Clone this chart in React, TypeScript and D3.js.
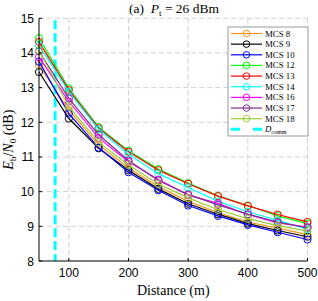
import React from "react";
import * as d3 from "d3";

const distances = [50, 100, 150, 200, 250, 300, 350, 400, 450, 500];
const mcs8 = [13.65, 12.35, 11.35, 10.68, 10.15, 9.72, 9.40, 9.12, 8.95, 8.76];
const mcs9 = [13.45, 12.11, 11.25, 10.62, 10.08, 9.65, 9.35, 9.08, 8.88, 8.70];
const mcs10 = [13.75, 12.25, 11.27, 10.56, 10.04, 9.60, 9.30, 9.04, 8.83, 8.62];
const mcs12 = [14.43, 12.98, 11.86, 11.18, 10.65, 10.25, 9.88, 9.60, 9.30, 9.08];
const mcs13 = [14.32, 12.93, 11.83, 11.15, 10.62, 10.23, 9.87, 9.59, 9.34, 9.13];
const mcs14 = [14.22, 12.88, 11.80, 11.08, 10.52, 10.12, 9.72, 9.42, 9.17, 8.92];
const mcs16 = [13.88, 12.60, 11.55, 10.86, 10.35, 9.90, 9.66, 9.34, 9.10, 8.98];
const mcs17 = [14.05, 12.69, 11.64, 10.90, 10.32, 9.92, 9.62, 9.35, 9.12, 8.96];
const mcs18 = [14.08, 12.45, 11.42, 10.77, 10.22, 9.82, 9.48, 9.22, 9.02, 8.86];
const dComm = 77;

const seriesNames = ["MCS 8", "MCS 9", "MCS 10", "MCS 12", "MCS 13", "MCS 14", "MCS 16", "MCS 17", "MCS 18"];
const seriesValues = [mcs8, mcs9, mcs10, mcs12, mcs13, mcs14, mcs16, mcs17, mcs18];
const seriesColors = ["#f7941d", "#000000", "#0000ff", "#00ff00", "#ff0000", "#00ffff", "#ff00ff", "#7e2f8e", "#9acd32"];
const xTicks = [100, 200, 300, 400, 500];
const yTicks = [8, 9, 10, 11, 12, 13, 14, 15];

export default function App() {
  const W = 318, H = 301;
  const left = 39, right = 307.5, top = 18.3, bottom = 261;
  const x = d3.scaleLinear().domain([50, 500]).range([left, right]);
  const y = d3.scaleLinear().domain([8, 15]).range([bottom, top]);
  const line = d3.line<number>().x((_, i) => x(distances[i])).y((v) => y(v));
  const serif = "'Liberation Serif', 'DejaVu Serif', serif";
  const sans = "'Liberation Sans', Arial, sans-serif";
  const lgX = 228, lgY = 27, lgW = 80, lgH = 109, rowH = 10.65;

  return (
    <div style={{ position: "absolute", left: 0, top: 0 }}>
      <svg width={W} height={H} style={{ display: "block" }}>
        <rect width={W} height={H} fill="#fff" />
        {/* grid */}
        {xTicks.map((t) => (
          <line key={"gx" + t} x1={x(t)} x2={x(t)} y1={top} y2={bottom} stroke="#d0d0d0" strokeWidth={1} strokeDasharray="5,3" />
        ))}
        {yTicks.filter((t) => t > 8).map((t) => (
          <line key={"gy" + t} x1={left} x2={right} y1={y(t)} y2={y(t)} stroke="#d0d0d0" strokeWidth={1} strokeDasharray="5,3" />
        ))}
        {/* D_comm line */}
        <line x1={x(dComm)} x2={x(dComm)} y1={top + 2} y2={bottom} stroke="#00ffff" strokeWidth={3} strokeDasharray="9,4" />
        {/* series */}
        {seriesValues.map((vals, si) => (
          <g key={"s" + si}>
            <path d={line(vals) || ""} fill="none" stroke={seriesColors[si]} strokeWidth={1.2} />
            {vals.map((v, i) => (
              <circle key={i} cx={x(distances[i])} cy={y(v)} r={3.6} fill="none" stroke={seriesColors[si]} strokeWidth={1} />
            ))}
          </g>
        ))}
        {/* axes */}
        <line x1={left} x2={left} y1={top} y2={bottom} stroke="#000" strokeWidth={1} />
        <line x1={left} x2={right} y1={bottom} y2={bottom} stroke="#000" strokeWidth={1} />
        {xTicks.map((t) => (
          <g key={"xt" + t}>
            <line x1={x(t)} x2={x(t)} y1={bottom} y2={bottom - 3} stroke="#000" strokeWidth={1} />
            <text x={x(t)} y={bottom + 16} textAnchor="middle" fontFamily={sans} fontSize={12} fill="#000">{t}</text>
          </g>
        ))}
        {yTicks.map((t) => (
          <g key={"yt" + t}>
            <line x1={left} x2={left + 3} y1={y(t)} y2={y(t)} stroke="#000" strokeWidth={1} />
            <text x={left - 5} y={y(t) + 4.5} textAnchor="end" fontFamily={sans} fontSize={12} fill="#000">{t}</text>
          </g>
        ))}
        {/* labels */}
        <text x={(left + right) / 2} y={295} textAnchor="middle" fontFamily={serif} fontSize={14} fill="#000">Distance (m)</text>
        <text transform={`translate(13,${(top + bottom) / 2}) rotate(-90)`} textAnchor="middle" fontFamily={serif} fontSize={14} fill="#000">
          <tspan fontStyle="italic">E</tspan><tspan fontSize={9} dy={3}>b</tspan><tspan dy={-3}>/</tspan><tspan fontStyle="italic">N</tspan><tspan fontSize={9} dy={3}>0</tspan><tspan dy={-3}> (dB)</tspan>
        </text>
        <text x={174} y={13} textAnchor="middle" fontFamily={serif} fontSize={13.5} fill="#000" style={{ whiteSpace: "pre" }}>
          {"(a)  "}<tspan fontStyle="italic">P</tspan><tspan fontSize={9} dy={3}>t</tspan><tspan dy={-3}>{" = 26 dBm"}</tspan>
        </text>
        {/* legend */}
        <rect x={lgX} y={lgY} width={lgW} height={lgH} fill="#fff" stroke="#808080" strokeWidth={0.8} />
        {seriesNames.map((n, i) => {
          const yy = lgY + 6.5 + i * rowH;
          return (
            <g key={"lg" + i}>
              <line x1={lgX + 3} x2={lgX + 34} y1={yy} y2={yy} stroke={seriesColors[i]} strokeWidth={1.2} />
              <circle cx={lgX + 18.5} cy={yy} r={3.3} fill="none" stroke={seriesColors[i]} strokeWidth={1} />
              <text x={lgX + 37} y={yy + 3} fontFamily={serif} fontSize={8.8} fill="#000">{n}</text>
            </g>
          );
        })}
        {(() => {
          const yy = lgY + 6.5 + 9 * rowH;
          return (
            <g>
              <line x1={lgX + 3} x2={lgX + 34} y1={yy} y2={yy} stroke="#00ffff" strokeWidth={3} strokeDasharray="9,13" />
              <text x={lgX + 37} y={yy + 3} fontFamily={serif} fontSize={8.8} fill="#000">
                <tspan fontStyle="italic">D</tspan><tspan fontSize={6} dy={2}>comm</tspan>
              </text>
            </g>
          );
        })()}
      </svg>
    </div>
  );
}
